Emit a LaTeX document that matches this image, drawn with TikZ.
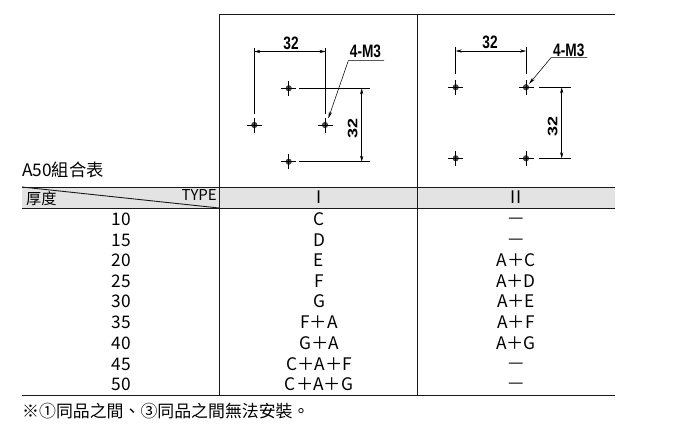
\documentclass[tikz,border=0pt]{standalone}
\usepackage{fontspec}
\setmainfont{Noto Sans CJK TC}
\newfontfamily\dimfont{Liberation Sans}
\usetikzlibrary{arrows.meta}
\tikzset{
  rule/.style={draw=black!90,line width=0.9pt},
  thinline/.style={draw=black,line width=0.55pt},
  dimarrow/.style={thinline,{Stealth[length=6pt,width=3.2pt]}-{Stealth[length=6pt,width=3.2pt]}},
  leader/.style={thinline,-{Stealth[length=7pt,width=3.2pt]}},
  holemark/.style={circle,draw=black!75,fill=black!70,line width=0.7pt,minimum size=5.4pt,inner sep=0pt},
  cell/.style={font=\fontsize{17.3}{17.3}\selectfont,inner sep=0pt,anchor=center},
  dimtext/.style={font=\dimfont\bfseries\fontsize{18}{18}\selectfont,inner sep=0pt,xscale=0.76},
  dimtextv/.style={font=\dimfont\bfseries\fontsize{18}{18}\selectfont,inner sep=0pt,rotate=90,yscale=0.76},
}
\newcommand{\holeat}[3]{%
  \node[holemark] (#1) at (#2,#3) {};
  \draw[thinline] ([xshift=-7.5pt]#1.center) -- ([xshift=7.5pt]#1.center);
  \draw[thinline] ([yshift=-7.5pt]#1.center) -- ([yshift=7.5pt]#1.center);
}
\begin{document}
\begin{tikzpicture}[x=1pt,y=-1pt]
\useasboundingbox[fill=white] (0,0) rectangle (700,425);
% header band
\fill[black!11] (22,187) rectangle (615,208);
% named table corners
\coordinate (tl) at (220,14.5); \coordinate (tr) at (615,14.5);
\coordinate (v1t) at (219.5,14.5); \coordinate (v1b) at (219.5,395.5);
\coordinate (v2t) at (417.5,14.5); \coordinate (v2b) at (417.5,395.5);
\coordinate (h1l) at (22,187); \coordinate (h1r) at (615,187);
\coordinate (h2l) at (22,208); \coordinate (h2r) at (615,208);
\coordinate (h3l) at (22,395.5); \coordinate (h3r) at (615,395.5);
\coordinate (dg) at (219,208);
\draw[rule] (tl) -- (tr);
\draw[rule] (v1t) -- (v1b);
\draw[rule] (v2t) -- (v2b);
\draw[rule] (h1l) -- (h1r);
\draw[rule] (h2l) -- (h2r);
\draw[rule] (h3l) -- (h3r);
\draw[rule] (h1l) -- (dg);
% captions
\node[cell,anchor=west] (title) at (22,170) {A50組合表};
\node[cell,anchor=east,font=\fontsize{15}{15}\selectfont] (typ) at (217,195.5) {TYPE};
\node[cell,anchor=west,font=\fontsize{15.2}{15}\selectfont] (thick) at (26,199) {厚度};
\node[cell] (hI) at (319,197.5) {I};
\node[cell] (hII) at (516,197.5) {II};
% rows
\node[cell] (a1) at (121,219.5) {10};
\node[cell] (a2) at (121,240) {15};
\node[cell] (a3) at (121,260.5) {20};
\node[cell] (a4) at (121,281) {25};
\node[cell] (a5) at (121,301.5) {30};
\node[cell] (a6) at (121,322) {35};
\node[cell] (a7) at (121,343) {40};
\node[cell] (a8) at (121,364) {45};
\node[cell] (a9) at (121,384.5) {50};
\node[cell] (b1) at (319,219.5) {C};
\node[cell] (b2) at (319,240) {D};
\node[cell] (b3) at (319,260.5) {E};
\node[cell] (b4) at (319,281) {F};
\node[cell] (b5) at (319,301.5) {G};
\node[cell] (b6) at (319,322) {F＋A};
\node[cell] (b7) at (319,343) {G＋A};
\node[cell] (b8) at (319,364) {C＋A＋F};
\node[cell] (b9) at (319,384.5) {C＋A＋G};
\node[cell] (c1) at (516,221) {—};
\node[cell] (c2) at (516,241.5) {—};
\node[cell] (c3) at (516,260.5) {A＋C};
\node[cell] (c4) at (516,281) {A＋D};
\node[cell] (c5) at (516,301.5) {A＋E};
\node[cell] (c6) at (516,322) {A＋F};
\node[cell] (c7) at (516,343) {A＋G};
\node[cell] (c8) at (516,365.5) {—};
\node[cell] (c9) at (516,386) {—};
\node[cell,anchor=west,font=\fontsize{16.9}{17}\selectfont] (note) at (22,411) {※①同品之間、③同品之間無法安裝。};
% drawing I
\holeat{p1}{288.7}{88.3}
\holeat{p2}{254.3}{125}
\holeat{p3}{325}{125}
\holeat{p4}{288.7}{161.7}
\coordinate (e1a) at (254.3,48); \coordinate (e1b) at (254.3,114);
\coordinate (e2a) at (325.5,48); \coordinate (e2b) at (325.5,114);
\coordinate (d1a) at (254.3,51.5); \coordinate (d1b) at (325.5,51.5);
\draw[thinline] (e1a) -- (e1b);
\draw[thinline] (e2a) -- (e2b);
\draw[dimarrow] (d1a) -- (d1b);
\coordinate (e3a) at (299,88.3); \coordinate (e3b) at (370,88.3);
\coordinate (e4a) at (299,161.7); \coordinate (e4b) at (370,161.7);
\coordinate (d2a) at (361.7,88.3); \coordinate (d2b) at (361.7,161.7);
\draw[thinline] (e3a) -- (e3b);
\draw[thinline] (e4a) -- (e4b);
\draw[dimarrow] (d2a) -- (d2b);
\node[dimtext] (l1) at (291,43) {32};
\node[dimtextv] (l2) at (352.7,128) {32};
\node[dimtext] (l3) at (365.5,51.5) {4-M3};
\coordinate (m1) at (384,60.7); \coordinate (m2) at (348.3,60.7); \coordinate (m3) at (328.3,118.5);
\draw[leader] (m1) -- (m2) -- (m3);
% drawing II
\holeat{q1}{455.7}{87.3}
\holeat{q2}{526}{87.3}
\holeat{q3}{455.7}{158.3}
\holeat{q4}{526}{158.3}
\coordinate (f1a) at (455.7,47); \coordinate (f1b) at (455.7,74.5);
\coordinate (f2a) at (526,47); \coordinate (f2b) at (526,74.5);
\coordinate (g1a) at (455.7,51); \coordinate (g1b) at (526,51);
\draw[thinline] (f1a) -- (f1b);
\draw[thinline] (f2a) -- (f2b);
\draw[dimarrow] (g1a) -- (g1b);
\coordinate (f3a) at (539,87.3); \coordinate (f3b) at (570.7,87.3);
\coordinate (f4a) at (539,158.3); \coordinate (f4b) at (570.7,158.3);
\coordinate (g2a) at (561.7,87.3); \coordinate (g2b) at (561.7,158.3);
\draw[thinline] (f3a) -- (f3b);
\draw[thinline] (f4a) -- (f4b);
\draw[dimarrow] (g2a) -- (g2b);
\node[dimtext] (k1) at (490,42.7) {32};
\node[dimtextv] (k2) at (552.7,126.7) {32};
\node[dimtext] (k3) at (568.8,50) {4-M3};
\coordinate (n1) at (587.3,57.7); \coordinate (n2) at (551,57.7); \coordinate (n3) at (529,84);
\draw[leader] (n1) -- (n2) -- (n3);
\end{tikzpicture}
\end{document}
